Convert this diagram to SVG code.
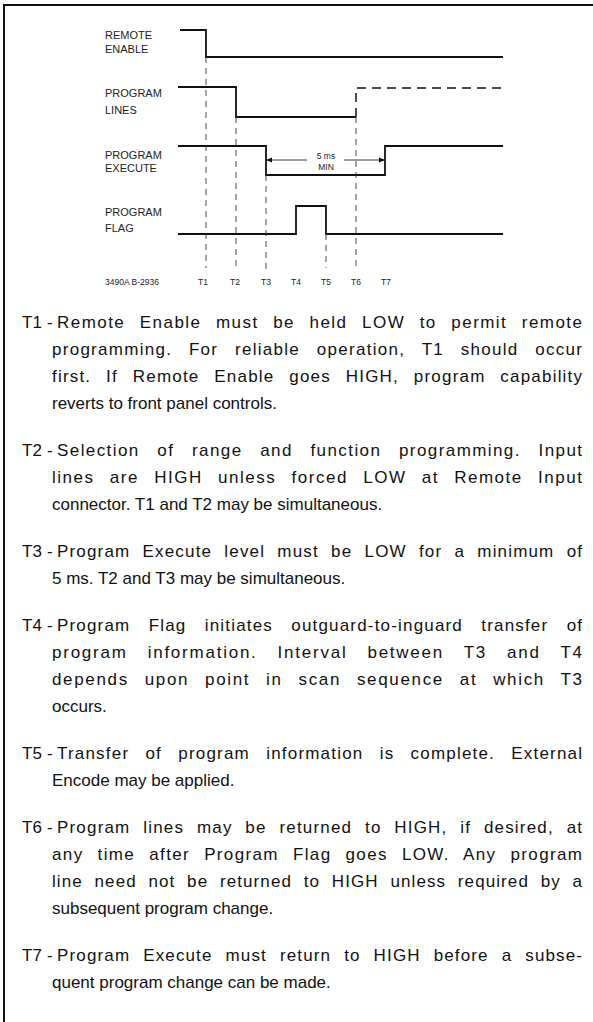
<svg xmlns="http://www.w3.org/2000/svg" width="593" height="1022" viewBox="0 0 593 1022">
<defs>
<style>
.w{fill:none;stroke:#111;stroke-width:1.8;stroke-linejoin:miter}
.wd{fill:none;stroke:#111;stroke-width:1.5;stroke-dasharray:9,6}
.g{fill:none;stroke:#333;stroke-width:0.9;stroke-dasharray:6,5}
.t{stroke:#222;stroke-width:0.9;fill:none}
.lb{font-family:"Liberation Sans",Arial,sans-serif;font-size:11px;fill:#222}
.sm{font-family:"Liberation Sans",Arial,sans-serif;font-size:8.5px;fill:#222}
.tx{font-family:"Liberation Sans",Arial,sans-serif;font-size:17px;fill:#111}
</style>
<marker id="ah" viewBox="0 0 10 10" refX="10" refY="5" markerWidth="8" markerHeight="6" orient="auto-start-reverse" markerUnits="userSpaceOnUse">
<path d="M0,1 L10,5 L0,9 Z" fill="#111"/>
</marker>
</defs>
<rect width="593" height="1022" fill="#fff"/>
<path d="M4,1022 V5 H593" fill="none" stroke="#111" stroke-width="2"/>

<g id="remote-enable">
<text class="lb" x="105" y="39">REMOTE</text>
<text class="lb" x="105" y="53">ENABLE</text>
<path class="w" d="M180,30 H206 V57 H503"/>
</g>
<g id="program-lines">
<text class="lb" x="105" y="97">PROGRAM</text>
<text class="lb" x="105" y="114">LINES</text>
<path class="w" d="M178,87 H236 V117 H356"/>
<path class="wd" d="M356,117 V88 H503"/>
</g>
<g id="program-execute">
<text class="lb" x="105" y="159">PROGRAM</text>
<text class="lb" x="105" y="172">EXECUTE</text>
<path class="w" d="M178,146 H266 V175 H385 V146 H503"/>
</g>
<g id="program-flag">
<text class="lb" x="105" y="216">PROGRAM</text>
<text class="lb" x="105" y="232">FLAG</text>
<path class="w" d="M178,234 H296 V206 H326 V234 H503"/>
</g>
<g id="connectors">
<line class="g" x1="206" y1="57" x2="206" y2="268"/>
<line class="g" x1="236" y1="117" x2="236" y2="268"/>
<line class="g" x1="266" y1="175" x2="266" y2="270"/>
<line class="g" x1="326" y1="234" x2="326" y2="268"/>
<line class="g" x1="356" y1="117" x2="356" y2="268"/>
<line class="t" x1="266" y1="160" x2="307" y2="160" marker-start="url(#ah)"/>
<line class="t" x1="344" y1="160" x2="385" y2="160" marker-end="url(#ah)"/>
<text class="sm" x="326" y="159" text-anchor="middle">5 ms</text>
<text class="sm" x="326" y="170" text-anchor="middle">MIN</text>
</g>
<g id="time-labels">
<text class="sm" x="105" y="285">3490A B-2936</text>
<text class="sm" x="203" y="285" text-anchor="middle">T1</text>
<text class="sm" x="235" y="285" text-anchor="middle">T2</text>
<text class="sm" x="266" y="285" text-anchor="middle">T3</text>
<text class="sm" x="296" y="285" text-anchor="middle">T4</text>
<text class="sm" x="326" y="285" text-anchor="middle">T5</text>
<text class="sm" x="356" y="285" text-anchor="middle">T6</text>
<text class="sm" x="386" y="285" text-anchor="middle">T7</text>
</g>

<g id="notes">
<text class="tx" x="22" y="328">T1</text><text class="tx" x="47" y="328">-</text>
<text class="tx" x="57" y="328" word-spacing="8.4" textLength="525" lengthAdjust="spacing">Remote Enable must be held LOW to permit remote</text>
<text class="tx" x="52" y="355" word-spacing="10.8" textLength="530" lengthAdjust="spacing">programming. For reliable operation, T1 should occur</text>
<text class="tx" x="52" y="382" word-spacing="8.9" textLength="530" lengthAdjust="spacing">first. If Remote Enable goes HIGH, program capability</text>
<text class="tx" x="52" y="409">reverts to front panel controls.</text>

<text class="tx" x="22" y="456">T2</text><text class="tx" x="47" y="456">-</text>
<text class="tx" x="57" y="456" word-spacing="11.5" textLength="525" lengthAdjust="spacing">Selection of range and function programming. Input</text>
<text class="tx" x="52" y="483" word-spacing="9" textLength="530" lengthAdjust="spacing">lines are HIGH unless forced LOW at Remote Input</text>
<text class="tx" x="52" y="510">connector. T1 and T2 may be simultaneous.</text>

<text class="tx" x="22" y="557">T3</text><text class="tx" x="47" y="557">-</text>
<text class="tx" x="57" y="557" word-spacing="6.3" textLength="525" lengthAdjust="spacing">Program Execute level must be LOW for a minimum of</text>
<text class="tx" x="52" y="584">5 ms. T2 and T3 may be simultaneous.</text>

<text class="tx" x="22" y="631">T4</text><text class="tx" x="47" y="631">-</text>
<text class="tx" x="57" y="631" word-spacing="12.4" textLength="525" lengthAdjust="spacing">Program Flag initiates outguard-to-inguard transfer of</text>
<text class="tx" x="52" y="658" word-spacing="13.5" textLength="530" lengthAdjust="spacing">program information. Interval between T3 and T4</text>
<text class="tx" x="52" y="685" word-spacing="9.5" textLength="530" lengthAdjust="spacing">depends upon point in scan sequence at which T3</text>
<text class="tx" x="52" y="712">occurs.</text>

<text class="tx" x="22" y="759">T5</text><text class="tx" x="47" y="759">-</text>
<text class="tx" x="57" y="759" word-spacing="10.3" textLength="525" lengthAdjust="spacing">Transfer of program information is complete. External</text>
<text class="tx" x="52" y="786">Encode may be applied.</text>

<text class="tx" x="22" y="833">T6</text><text class="tx" x="47" y="833">-</text>
<text class="tx" x="57" y="833" word-spacing="6.9" textLength="525" lengthAdjust="spacing">Program lines may be returned to HIGH, if desired, at</text>
<text class="tx" x="52" y="860" word-spacing="8" textLength="530" lengthAdjust="spacing">any time after Program Flag goes LOW. Any program</text>
<text class="tx" x="52" y="887" word-spacing="5.9" textLength="530" lengthAdjust="spacing">line need not be returned to HIGH unless required by a</text>
<text class="tx" x="52" y="914">subsequent program change.</text>

<text class="tx" x="22" y="961">T7</text><text class="tx" x="47" y="961">-</text>
<text class="tx" x="57" y="961" word-spacing="7.1" textLength="525" lengthAdjust="spacing">Program Execute must return to HIGH before a subse-</text>
<text class="tx" x="52" y="988">quent program change can be made.</text>
</g>
</svg>
